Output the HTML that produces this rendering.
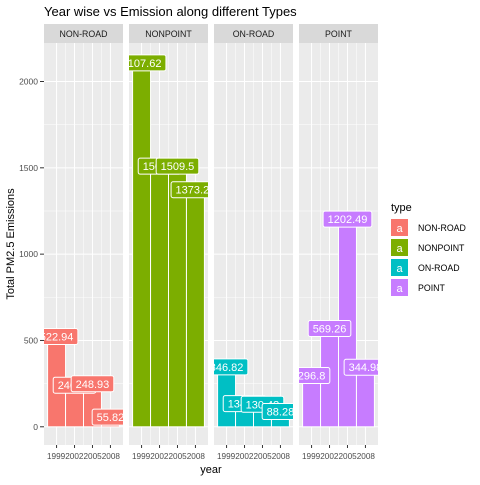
<!DOCTYPE html>
<html><head><meta charset="utf-8"><style>
body{margin:0;background:#fff;}
svg text{font-family:"Liberation Sans",Arial,sans-serif;}
</style></head><body>
<svg id="chart" width="480" height="480" viewBox="0 0 480 480" xmlns="http://www.w3.org/2000/svg">
<rect width="480" height="480" fill="#fff"/>
<text x="44" y="16" font-size="13" fill="#000">Year wise vs Emission along different Types</text>
<text transform="translate(14,244) rotate(-90)" text-anchor="middle" font-size="11" fill="#000">Total PM2.5 Emissions</text>
<text x="211" y="473" text-anchor="middle" font-size="11" fill="#000">year</text>
<g id="panels"></g>
<g id="legend"></g>
</svg>
<script>
const types = ["NON-ROAD","NONPOINT","ON-ROAD","POINT"];
const years = [1999,2002,2005,2008];
const nonRoad = [522.94,240.85,248.93,55.82];
const nonPoint = [2107.62,1509.5,1509.5,1373.21];
const onRoad = [346.82,134.31,130.43,88.28];
const point = [296.8,569.26,1202.49,344.98];
const yTicks = [0,500,1000,1500,2000];
const colors = ["#F8766D","#7CAE00","#00BFC4","#C77CFF"];

const series=[nonRoad,nonPoint,onRoad,point];
const NS="http://www.w3.org/2000/svg";
const svg=document.getElementById('chart');
const panels=document.getElementById('panels');
const top0=43,bot=445,panelW=79,gap=6,left0=44;
const yMin=-105.5,yMax=2223;
const y=v=>bot-(v-yMin)/(yMax-yMin)*(bot-top0);
const xMin=1996.9,xMax=2010.1;
const x=(p,v)=>left0+p*(panelW+gap)+(v-xMin)/(xMax-xMin)*panelW;
function mk(t,a,parent){const e=document.createElementNS(NS,t);for(const k in a)e.setAttribute(k,a[k]);(parent||panels).appendChild(e);return e;}
yTicks.forEach(v=>{
  const t=mk('text',{x:38,y:y(v)+3,'text-anchor':'end','font-size':'8.5',fill:'#4d4d4d'});t.textContent=v;
  
  
  mk('line',{x1:40,x2:44,y1:y(v),y2:y(v),stroke:'#333','stroke-width':1});
});
types.forEach((tp,p)=>{
  const px=left0+p*(panelW+gap);
  const g=mk('g',{});
  
  
  mk('rect',{x:px,y:top0,width:panelW,height:bot-top0,fill:'#EBEBEB'},g);
  const cp=mk('clipPath',{id:'cp'+p},g);
  mk('rect',{x:px,y:top0,width:panelW,height:bot-top0},cp);
  yTicks.forEach((v,i)=>{
    if(i<yTicks.length-1){const m=(v+yTicks[i+1])/2;mk('line',{x1:px,x2:px+panelW,y1:y(m),y2:y(m),stroke:'#fff','stroke-width':0.5},g);}
    mk('line',{x1:px,x2:px+panelW,y1:y(v),y2:y(v),stroke:'#fff','stroke-width':1},g);
  });
  for(let i=0;i<years.length-1;i++){const m=(years[i]+years[i+1])/2;mk('line',{x1:x(p,m),x2:x(p,m),y1:top0,y2:bot,stroke:'#fff','stroke-width':0.5},g);}
  years.forEach(yr=>{
    mk('line',{x1:x(p,yr),x2:x(p,yr),y1:top0,y2:bot,stroke:'#fff','stroke-width':1},g);
    mk('line',{x1:x(p,yr),x2:x(p,yr),y1:bot,y2:bot+3,stroke:'#333','stroke-width':1},g);
  });
  const xl=mk('text',{x:px+panelW/2,y:459,'text-anchor':'middle','font-size':'8.5',fill:'#4d4d4d',textLength:panelW-6,lengthAdjust:'spacingAndGlyphs'},g);
  xl.textContent=years.join('');
  
  
  const st=mk('rect',{x:px,y:24,width:panelW,height:19,fill:'#D9D9D9'},g);
  
  
  const stt=mk('text',{x:px+panelW/2,y:37,'text-anchor':'middle','font-size':'8.8',fill:'#1a1a1a'},g);stt.textContent=tp;
  const cg=mk('g',{'clip-path':'url(#cp'+p+')'},g);
  const vals=series[p];
  vals.forEach((v,i)=>{
    const w=(x(p,years[i])-x(p,years[i]-1.5))*2;
    const b=mk('rect',{x:x(p,years[i])-w/2,y:y(v),width:w,height:y(0)-y(v),fill:colors[p],stroke:'#fff','stroke-width':1},cg);
    
    
  });
  vals.forEach((v,i)=>{
    const s=String(v);const tw=s.length*6.1+6;
    const cx=x(p,years[i]),cy=y(v);
    const lb=mk('rect',{x:cx-tw/2,y:cy-8,width:tw,height:16,rx:2,fill:colors[p],stroke:'#fff','stroke-width':1},cg);
    
    
    const t=mk('text',{x:cx,y:cy+4,'text-anchor':'middle','font-size':'11',fill:'#fff'},cg);t.textContent=s;
  });
});
const lg=document.getElementById('legend');
const lt=mk('text',{x:391,y:211,'font-size':'11',fill:'#000'},lg);lt.textContent='type';
types.forEach((tp,i)=>{
  const yy=218+i*20;
  const k=mk('rect',{x:391,y:yy+1,width:17,height:17,fill:colors[i]},lg);
  
  
  const a=mk('text',{x:399.5,y:yy+14,'text-anchor':'middle','font-size':'11',fill:'#fff'},lg);a.textContent='a';
  const l=mk('text',{x:418,y:yy+13,'font-size':'8.8',fill:'#000'},lg);l.textContent=tp;
  
  
});
</script>
</body></html>
